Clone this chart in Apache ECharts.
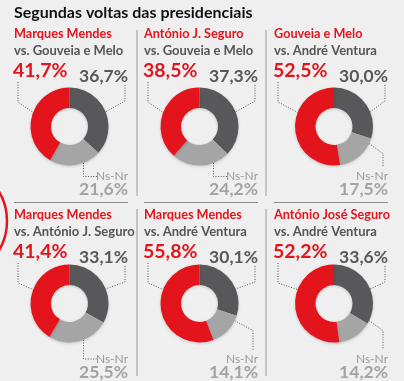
<!DOCTYPE html>
<html>
<head>
<meta charset="utf-8">
<script src="https://cdn.jsdelivr.net/npm/echarts@6/dist/echarts.min.js"></script>
<style>
html,body{margin:0;padding:0;background:#efefef;}
#chart{width:404px;height:381px;}
</style>
</head>
<body>
<div id="chart"></div>
<script>
// ---- data ----
const titleText = 'Segundas voltas das presidenciais';
const candidates = ['Marques Mendes', 'António J. Seguro', 'Gouveia e Melo', 'Marques Mendes', 'Marques Mendes', 'António José Seguro'];
const opponents = ['vs. Gouveia e Melo', 'vs. Gouveia e Melo', 'vs. André Ventura', 'vs. António J. Seguro', 'vs. André Ventura', 'vs. André Ventura'];
const candidateValues = [41.7, 38.5, 52.5, 41.4, 55.8, 52.2];
const opponentValues = [36.7, 37.3, 30.0, 33.1, 30.1, 33.6];
const nsnrValues = [21.6, 24.2, 17.5, 25.5, 14.1, 14.2];
const nsnrLabel = 'Ns-Nr';

// ---- layout ----
const FONT = 'Lato, "Open Sans", sans-serif';
const RED = '#e3141c', DARK = '#58585a', LIGHT = '#a5a5a5';
const colL = [14, 144, 274];
const colR = [128, 258, 388];
const colCx = [69.5, 199.5, 334];
const rowOff = [0, 181];
const rowCy = [126.5, 303.5];
const rowNs = [176.5, 359];
const nsSide = ['bottom', 'bottom', 'right', 'bottom', 'right', 'right'];
const R_OUT = 39, R_IN = 18.5;

function fmt(v) { return v.toFixed(1).replace('.', ',') + '%'; }

const series = [];
const graphic = [];

graphic.push({type: 'text', left: 14, top: 5, style: {text: titleText, font: 'bold 16px ' + FONT, fill: '#111'}});
// decorative red ring at the left edge (part of neighbouring graphic)
graphic.push({type: 'circle', shape: {cx: -50, cy: 221, r: 57}, style: {fill: 'none', stroke: RED, lineWidth: 2.5}});

// separators
const vlines = [[137, 30, 196], [266, 30, 196], [137, 209, 376], [266, 209, 376]];
vlines.forEach(v => graphic.push({type: 'line', shape: {x1: v[0], y1: v[1], x2: v[0], y2: v[2]}, style: {stroke: '#9a9a9a', lineWidth: 1}}));
for (let c = 0; c < 3; c++) {
  graphic.push({type: 'line', shape: {x1: colL[c], y1: 202.5, x2: colR[c], y2: 202.5}, style: {stroke: '#8c8c8c', lineWidth: 1}});
}

function pt(cx, cy, r, deg) {
  const a = deg * Math.PI / 180;
  return [cx + r * Math.sin(a), cy - r * Math.cos(a)];
}
const dotted = {stroke: '#555', lineWidth: 1, lineDash: [1, 1.6], fill: null};

for (let i = 0; i < 6; i++) {
  const c = i % 3, r = Math.floor(i / 3);
  const L = colL[c], Rr = colR[c], cx = colCx[c], cy = rowCy[r], o = rowOff[r], ns = rowNs[r];

  // titles
  graphic.push({type: 'text', x: L, y: 34 + o, style: {text: candidates[i], font: 'bold 12.7px ' + FONT, fill: RED, verticalAlign: 'middle'}});
  graphic.push({type: 'text', x: L, y: 51 + o, style: {text: opponents[i], font: 'bold 13px ' + FONT, fill: '#555557', verticalAlign: 'middle'}});

  // value labels
  graphic.push({type: 'text', x: L - 1, y: 71 + o, style: {text: fmt(candidateValues[i]), font: 'bold 19.5px ' + FONT, fill: RED, verticalAlign: 'middle'}});
  graphic.push({type: 'text', x: Rr, y: 76 + o, style: {text: fmt(opponentValues[i]), font: 'bold 17.5px ' + FONT, fill: '#58585a', align: 'right', verticalAlign: 'middle'}});
  graphic.push({type: 'text', x: Rr, y: ns, style: {text: nsnrLabel, font: '12px ' + FONT, fill: '#9a9a9a', align: 'right', verticalAlign: 'middle'}});
  graphic.push({type: 'text', x: Rr, y: ns + 13, style: {text: fmt(nsnrValues[i]), font: 'bold 17.5px ' + FONT, fill: '#a3a3a3', align: 'right', verticalAlign: 'middle'}});

  // leader lines
  const aRed = pt(cx, cy, R_OUT, 291);
  graphic.push({type: 'polyline', shape: {points: [[L + 4, 82 + o], [L + 4, 102 + o], aRed]}, style: dotted});
  const aDark = pt(cx, cy, R_OUT, 68);
  graphic.push({type: 'polyline', shape: {points: [[Rr - 3, 85 + o], [Rr - 3, 101 + o], aDark]}, style: dotted});
  if (nsSide[i] === 'bottom') {
    const x = cx + 14;
    const y = cy + Math.sqrt(R_OUT * R_OUT - 14 * 14);
    graphic.push({type: 'polyline', shape: {points: [[x, y], [x, ns], [Rr - 31, ns]]}, style: dotted});
  } else {
    const a = pt(cx, cy, R_OUT, 116);
    graphic.push({type: 'polyline', shape: {points: [a, [Rr - 5, a[1] + 10], [Rr - 5, ns - 9]]}, style: dotted});
  }

  series.push({
    type: 'pie',
    center: [cx, cy],
    radius: [R_IN, R_OUT],
    startAngle: 90,
    clockwise: true,
    silent: true,
    animation: false,
    label: {show: false},
    labelLine: {show: false},
    itemStyle: {shadowBlur: 3, shadowColor: 'rgba(0,0,0,0.18)', shadowOffsetY: 1},
    data: [
      {name: opponents[i], value: opponentValues[i], itemStyle: {color: DARK}},
      {name: nsnrLabel, value: nsnrValues[i], itemStyle: {color: LIGHT}},
      {name: candidates[i], value: candidateValues[i], itemStyle: {color: RED}}
    ]
  });
}

const chart = echarts.init(document.getElementById('chart'), null, {renderer: 'canvas'});
chart.setOption({
  backgroundColor: '#efefef',
  animation: false,
  series: series,
  graphic: graphic
});
</script>
</body>
</html>
